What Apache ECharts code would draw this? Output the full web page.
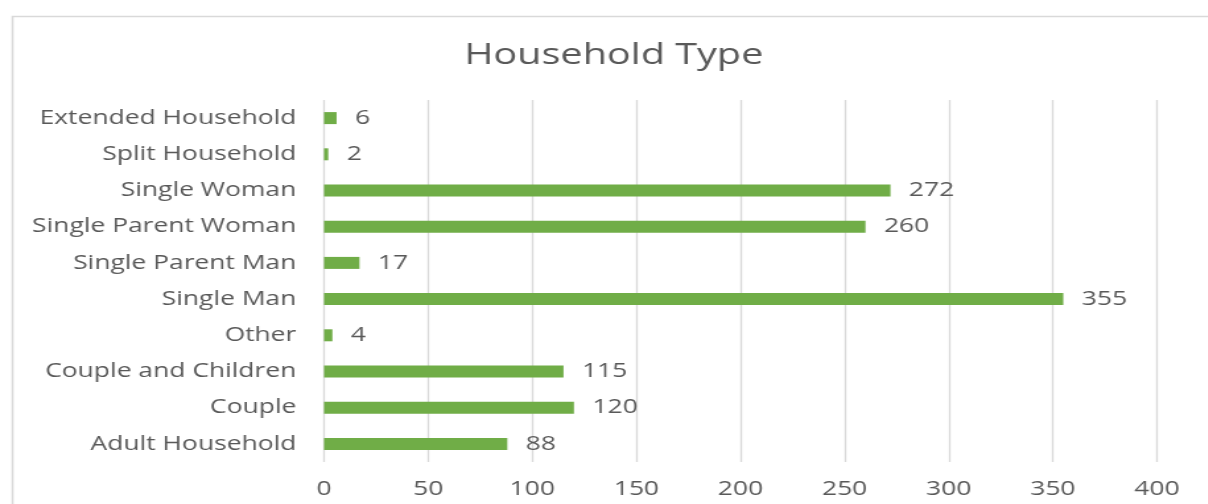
<!DOCTYPE html>
<html>
<head>
<meta charset="utf-8">
<script src="https://cdn.jsdelivr.net/npm/echarts@6/dist/echarts.min.js"></script>
<style>
  html, body { margin: 0; padding: 0; background: #fff; overflow: hidden; }
  /* the reference is stretched sideways, so the chart is drawn narrower and widened */
  #chart { width: 915px; height: 504px; transform: scaleX(1.32); transform-origin: 0 0; }
</style>
</head>
<body>
<div id="chart"></div>
<script>
// bottom to top, as in the picture
const categories = [
  'Adult Household', 'Couple', 'Couple and Children', 'Other', 'Single Man',
  'Single Parent Man', 'Single Parent Woman', 'Single Woman', 'Split Household', 'Extended Household'
];
const counts = [88, 120, 115, 4, 355, 17, 260, 272, 2, 6];
const xTicks = [0, 50, 100, 150, 200, 250, 300, 350, 400];

const textColor = '#595959';
const gridColor = '#d9d9d9';
const font = '"Open Sans", "Noto Sans", sans-serif';

const chart = echarts.init(document.getElementById('chart'));
chart.setOption({
  animation: false,
  backgroundColor: '#fff',
  title: {
    text: 'Household Type',
    left: 460,
    top: 35,
    textAlign: 'center',
    textStyle: { color: textColor, fontFamily: font, fontSize: 30, fontWeight: 'normal' }
  },
  graphic: [{
    type: 'rect',
    left: 7, top: 14,
    shape: { width: 1000, height: 600 },
    style: { fill: 'none', stroke: gridColor, lineWidth: 1.5 },
    silent: true
  }],
  grid: { left: 245.5, right: 38.5, top: 100, bottom: 42, containLabel: false },
  xAxis: {
    type: 'value',
    min: xTicks[0],
    max: xTicks[xTicks.length - 1],
    interval: 50,
    axisLine: { show: false },
    axisTick: { show: false },
    splitLine: { lineStyle: { color: gridColor, width: 1.3 } },
    axisLabel: { color: textColor, fontFamily: font, fontSize: 20, margin: 17 }
  },
  yAxis: {
    type: 'category',
    data: categories,
    axisLine: { show: false },
    axisTick: { show: false },
    axisLabel: { color: textColor, fontFamily: font, fontSize: 20, margin: 21 }
  },
  series: [{
    type: 'bar',
    data: counts,
    barWidth: 12,
    itemStyle: { color: '#70ad47' },
    label: {
      show: true,
      position: 'right',
      distance: 14,
      color: textColor,
      fontFamily: font,
      fontSize: 20
    }
  }]
});
</script>
</body>
</html>
